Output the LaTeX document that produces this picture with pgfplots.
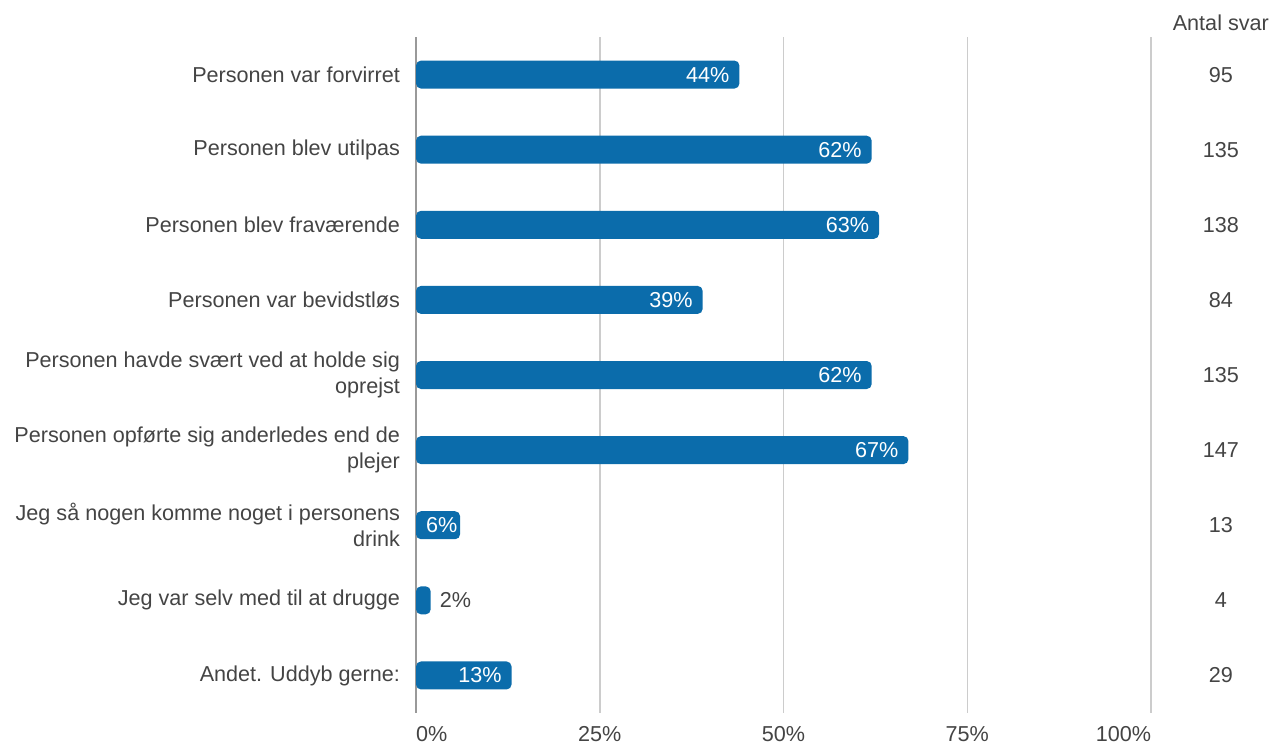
\documentclass[border=0pt]{standalone}
\usepackage{fontspec}
\setmainfont{Liberation Sans}
\usepackage{pgfplots}
\pgfplotsset{compat=1.18}
\definecolor{barblue}{HTML}{0B6CAB}
\definecolor{txt}{HTML}{444444}
\definecolor{gridc}{HTML}{CCCCCC}
\definecolor{zeroc}{HTML}{999999}
\newcommand{\lblfont}{\fontsize{10.8}{13}\selectfont}
\begin{document}
\begin{tikzpicture}[x=1pt,y=1pt]
\useasboundingbox (0,0) rectangle (644,372.5);
\begin{axis}[
  at={(208pt,16pt)}, anchor=south west,
  scale only axis, width=367.5pt, height=338pt,
  xmin=0, xmax=100, ymin=-0.5, ymax=8.5, y dir=reverse,
  xtick={0,25,50,75,100},
  xticklabels={\makebox[0pt][l]{0\%},25\%,50\%,75\%,\makebox[0pt][r]{100\%}},
  ytick={0,...,8},
  yticklabels={
    Personen var forvirret,
    Personen blev utilpas,
    Personen blev fraværende,
    Personen var bevidstløs,
    {Personen havde svært ved at holde sig\\oprejst},
    {Personen opførte sig anderledes end de\\plejer},
    {Jeg så nogen komme noget i personens\\drink},
    Jeg var selv med til at drugge,
    Andet. Uddyb gerne:},
  xmajorgrids, grid style={gridc, line width=0.75pt},
  axis line style={draw=none}, major tick length=0pt,
  tick label style={font=\lblfont, text=txt},
  yticklabel style={align=right, xshift=-4.5pt},
  xticklabel style={yshift=-3.4pt},
  clip=false,
]
\draw[zeroc, line width=0.75pt] (axis cs:0,-0.5) -- (axis cs:0,8.5);
\addplot[xbar, bar width=14pt, fill=barblue, draw=none, rounded corners=2.5pt]
  coordinates {(44,0) (62,1) (63,2) (39,3) (62,4) (67,5) (6,6) (2,7) (13,8)};
\addplot[draw=none, nodes near coords, point meta=explicit symbolic,
  every node near coord/.append style={anchor=east, text=white, font=\lblfont, xshift=-1.5pt}]
  coordinates {(44,0)[44\%] (62,1)[62\%] (63,2)[63\%] (39,3)[39\%] (62,4)[62\%] (67,5)[67\%] (13,8)[13\%]};
\addplot[draw=none, nodes near coords, point meta=explicit symbolic,
  every node near coord/.append style={anchor=west, text=white, font=\lblfont, xshift=-20.5pt}]
  coordinates {(6,6)[6\%]};
\addplot[draw=none, nodes near coords, point meta=explicit symbolic,
  every node near coord/.append style={anchor=west, text=txt, font=\lblfont, xshift=1pt}]
  coordinates {(2,7)[2\%]};
\addplot[draw=none, nodes near coords, point meta=explicit symbolic,
  every node near coord/.append style={anchor=center, text=txt, font=\lblfont}]
  coordinates {(109.5,0)[95] (109.5,1)[135] (109.5,2)[138] (109.5,3)[84] (109.5,4)[135] (109.5,5)[147] (109.5,6)[13] (109.5,7)[4] (109.5,8)[29]};
\node[font=\lblfont, text=txt] at (axis cs:109.5,-0.69) {Antal svar};
\end{axis}
\end{tikzpicture}
\end{document}
